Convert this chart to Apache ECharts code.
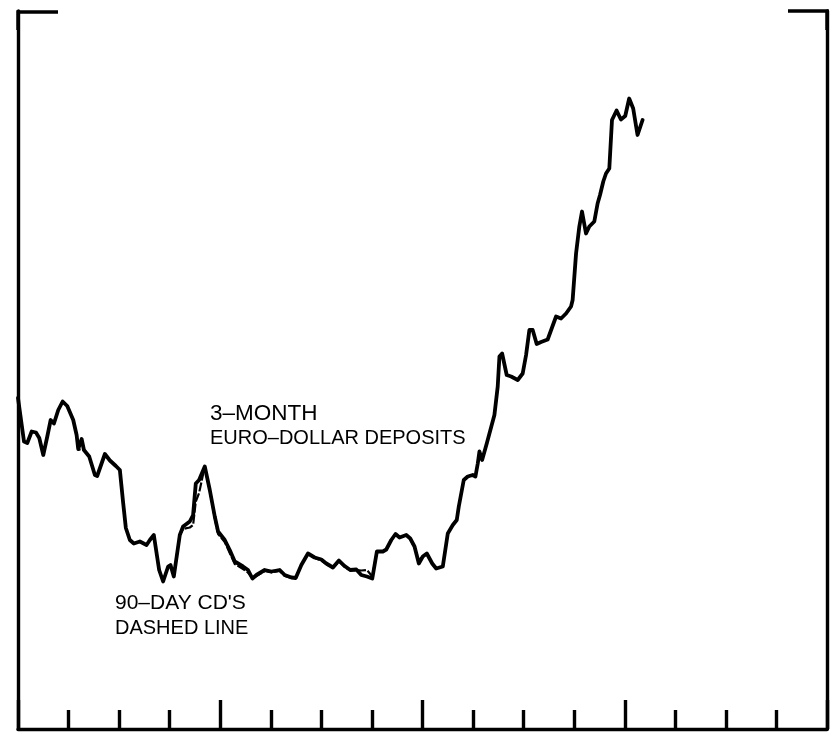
<!DOCTYPE html>
<html>
<head>
<meta charset="utf-8">
<title>3-Month Euro-Dollar Deposits vs 90-Day CD's</title>
<script src="https://cdn.jsdelivr.net/npm/echarts@6/dist/echarts.min.js"></script>
<style>
  html, body { margin: 0; padding: 0; background: #fff; }
  #chart { width: 830px; height: 733px; }
</style>
</head>
<body>
<div id="chart"></div>
<script>
// week number from the start of the chart (4 years = 208 weeks)
const weeks = [
  0, 1.54, 2.39, 3.52, 4.62, 5.47, 6.5, 7.53, 8.4, 9.24, 10.35, 11.48, 12.66, 14.2, 15.07, 15.49,
  16.36, 16.95, 18.31, 19.77, 20.36, 22.34, 23.63, 25.17, 26.19, 27.04, 27.73, 28.76, 29.79, 31.33,
  33.05, 33.9, 34.92, 36.29, 37.31, 38.6, 39.21, 40.06, 41.6, 42.45, 44.17, 45.02, 45.71, 46.56,
  48.02, 49.31, 50.59, 51.44, 53.16, 54.44, 55.73, 57.86, 59.14, 60.27, 61.3, 63.43, 65.15, 67.28,
  68.57, 70.29, 71.4, 72.85, 74.55, 76.27, 77.99, 79.27, 80.97, 82.51, 83.97, 85.44, 86.98, 88.26,
  89.7, 91.09, 92.27, 93.81, 94.68, 95.97, 97.07, 98.1, 99.82, 100.85, 101.95, 103.06, 104.08,
  105.11, 106.5, 107.52, 109.22, 110.5, 111.79, 112.81, 113.33, 114.61, 115.64, 116.92, 117.61,
  118.21, 118.64, 119.33, 120.52, 122.49, 123.34, 123.78, 124.47, 125.65, 126.78, 128.48, 129.76,
  130.63, 131.48, 132.33, 133.36, 134.49, 136.18, 138.34, 139.62, 140.91, 142.19, 142.6, 143.48,
  144.32, 145.01, 146.04, 146.89, 148.17, 149.02, 149.64, 150.48, 151.18, 152.03, 152.72, 153.9,
  155.01, 156.12, 157.14, 158.17, 159.29, 160.58
];

// 3-month euro-dollar deposit rate (solid line)
const euroRates = [
  6.62, 5.75, 5.72, 5.95, 5.93, 5.82, 5.48, 5.85, 6.18, 6.11, 6.38, 6.55, 6.46, 6.18, 5.88, 5.6,
  5.8, 5.58, 5.45, 5.08, 5.06, 5.5, 5.37, 5.26, 5.18, 4.52, 4.02, 3.78, 3.71, 3.75,
  3.68, 3.78, 3.88, 3.18, 2.95, 3.25, 3.28, 3.05, 3.88, 4.05, 4.15, 4.28, 4.91, 4.98,
  5.25, 4.78, 4.25, 3.95, 3.78, 3.58, 3.35, 3.25, 3.18, 3.01, 3.08, 3.18, 3.15, 3.18,
  3.08, 3.03, 3.02, 3.28, 3.51, 3.43, 3.39, 3.31, 3.23, 3.37, 3.26, 3.18, 3.19, 3.08,
  3.05, 3.01, 3.55, 3.55, 3.59, 3.78, 3.9, 3.83, 3.88, 3.81, 3.65, 3.31, 3.45,
  3.51, 3.31, 3.21, 3.25, 3.91, 4.08, 4.18, 4.45, 4.98, 5.05, 5.08, 5.05,
  5.31, 5.55, 5.38, 5.71, 6.28, 6.85, 7.45, 7.51, 7.08, 7.05, 6.98, 7.11,
  7.48, 7.98, 7.98, 7.7, 7.74, 7.79, 8.25, 8.21, 8.31, 8.45, 8.58, 9.51,
  10.05, 10.35, 9.91, 10.05, 10.15, 10.51, 10.68, 10.95, 11.11, 11.21, 12.18, 12.37,
  12.19, 12.26, 12.61, 12.41, 11.88, 12.18
];

// 90-day CD rate (dashed line) - runs almost on top of the euro-dollar line
const cdRates = [
  6.62, 5.75, 5.72, 5.95, 5.93, 5.82, 5.48, 5.85, 6.18, 6.11, 6.38, 6.55, 6.46, 6.18, 5.88, 5.58,
  5.6, 5.58, 5.45, 5.08, 5.06, 5.5, 5.37, 5.26, 5.18, 4.52, 4.02, 3.78, 3.71, 3.75,
  3.68, 3.78, 3.88, 3.18, 2.95, 3.25, 3.28, 3.05, 3.88, 4.0, 4.03, 4.08, 4.55, 4.72,
  5.25, 4.78, 4.22, 3.9, 3.74, 3.52, 3.3, 3.2, 3.13, 3.01, 3.06, 3.16, 3.13, 3.16,
  3.06, 3.02, 3.02, 3.28, 3.5, 3.42, 3.37, 3.3, 3.22, 3.35, 3.24, 3.17, 3.18, 3.17,
  3.18, 3.05, 3.55, 3.55, 3.59, 3.78, 3.9, 3.83, 3.88, 3.8, 3.62, 3.38, 3.45,
  3.5, 3.3, 3.21, 3.25, 3.91, 4.08, 4.18, 4.45, 4.98, 5.05, 5.08, 5.05,
  5.31, 5.55, 5.38, 5.71, 6.28, 6.85, 7.45, 7.51, 7.08, 7.05, 6.98, 7.11,
  7.48, 7.98, 7.98, 7.7, 7.74, 7.79, 8.25, 8.21, 8.31, 8.45, 8.58, 9.51,
  10.05, 10.35, 9.91, 10.05, 10.15, 10.51, 10.68, 10.95, 11.11, 11.21, 12.18, 12.37,
  12.19, 12.26, 12.61, 12.41, 11.88, 12.18
];

const euroLabel = ["3–MONTH", "EURO–DOLLAR DEPOSITS"];
const cdLabel = ["90–DAY CD'S", "DASHED LINE"];

const chart = echarts.init(document.getElementById("chart"));

const frameStyle = { color: "#000", width: 3.4 };
const fontFamily = "'Liberation Sans', Arial, sans-serif";

const option = {
  animation: false,
  backgroundColor: "#fff",
  grid: { left: 18, right: 3, top: 11, bottom: 4, containLabel: false },
  xAxis: {
    type: "value",
    min: 0,
    max: 208,
    interval: 52,
    axisLine: { show: true, lineStyle: frameStyle },
    axisTick: { show: true, inside: true, length: 29, lineStyle: frameStyle },
    minorTick: { show: true, splitNumber: 4, length: 19, lineStyle: frameStyle },
    axisLabel: { show: false },
    splitLine: { show: false },
    minorSplitLine: { show: false },
  },
  yAxis: [
    {
      type: "value",
      min: 0,
      max: 14.36,
      position: "left",
      axisLine: { show: true, onZero: false, lineStyle: frameStyle },
      axisTick: { show: false },
      axisLabel: { show: false },
      splitLine: { show: false },
    },
    {
      type: "value",
      min: 0,
      max: 14.36,
      position: "right",
      axisLine: { show: true, onZero: false, lineStyle: frameStyle },
      axisTick: { show: false },
      axisLabel: { show: false },
      splitLine: { show: false },
    },
  ],
  series: [
    {
      name: "90-Day CD's",
      type: "line",
      data: weeks.map((w, i) => [w, cdRates[i]]),
      showSymbol: false,
      symbol: "none",
      lineStyle: { color: "#000", width: 2.2, type: [9, 2] },
    },
    {
      name: "3-Month Euro-Dollar Deposits",
      type: "line",
      data: weeks.map((w, i) => [w, euroRates[i]]),
      showSymbol: false,
      symbol: "none",
      lineStyle: { color: "#000", width: 3.8, join: "round", cap: "round" },
    },
  ],
  graphic: [
    // top corners of the frame
    { type: "polyline", shape: { points: [[18, 30], [18, 12], [58, 12]] }, style: { stroke: "#000", lineWidth: 3.4, fill: null } },
    { type: "polyline", shape: { points: [[788, 11], [827, 11], [827, 30]] }, style: { stroke: "#000", lineWidth: 3.4, fill: null } },
    { type: "text", left: 210, top: 402, style: { text: euroLabel[0], font: "22.5px " + fontFamily, fill: "#000" } },
    { type: "text", left: 210, top: 428, style: { text: euroLabel[1], font: "20px " + fontFamily, fill: "#000" } },
    { type: "text", left: 115, top: 593, style: { text: cdLabel[0], font: "21px " + fontFamily, fill: "#000" } },
    { type: "text", left: 115, top: 618, style: { text: cdLabel[1], font: "20px " + fontFamily, fill: "#000" } },
  ],
};

chart.setOption(option);
window.addEventListener("resize", () => chart.resize());
</script>
</body>
</html>
